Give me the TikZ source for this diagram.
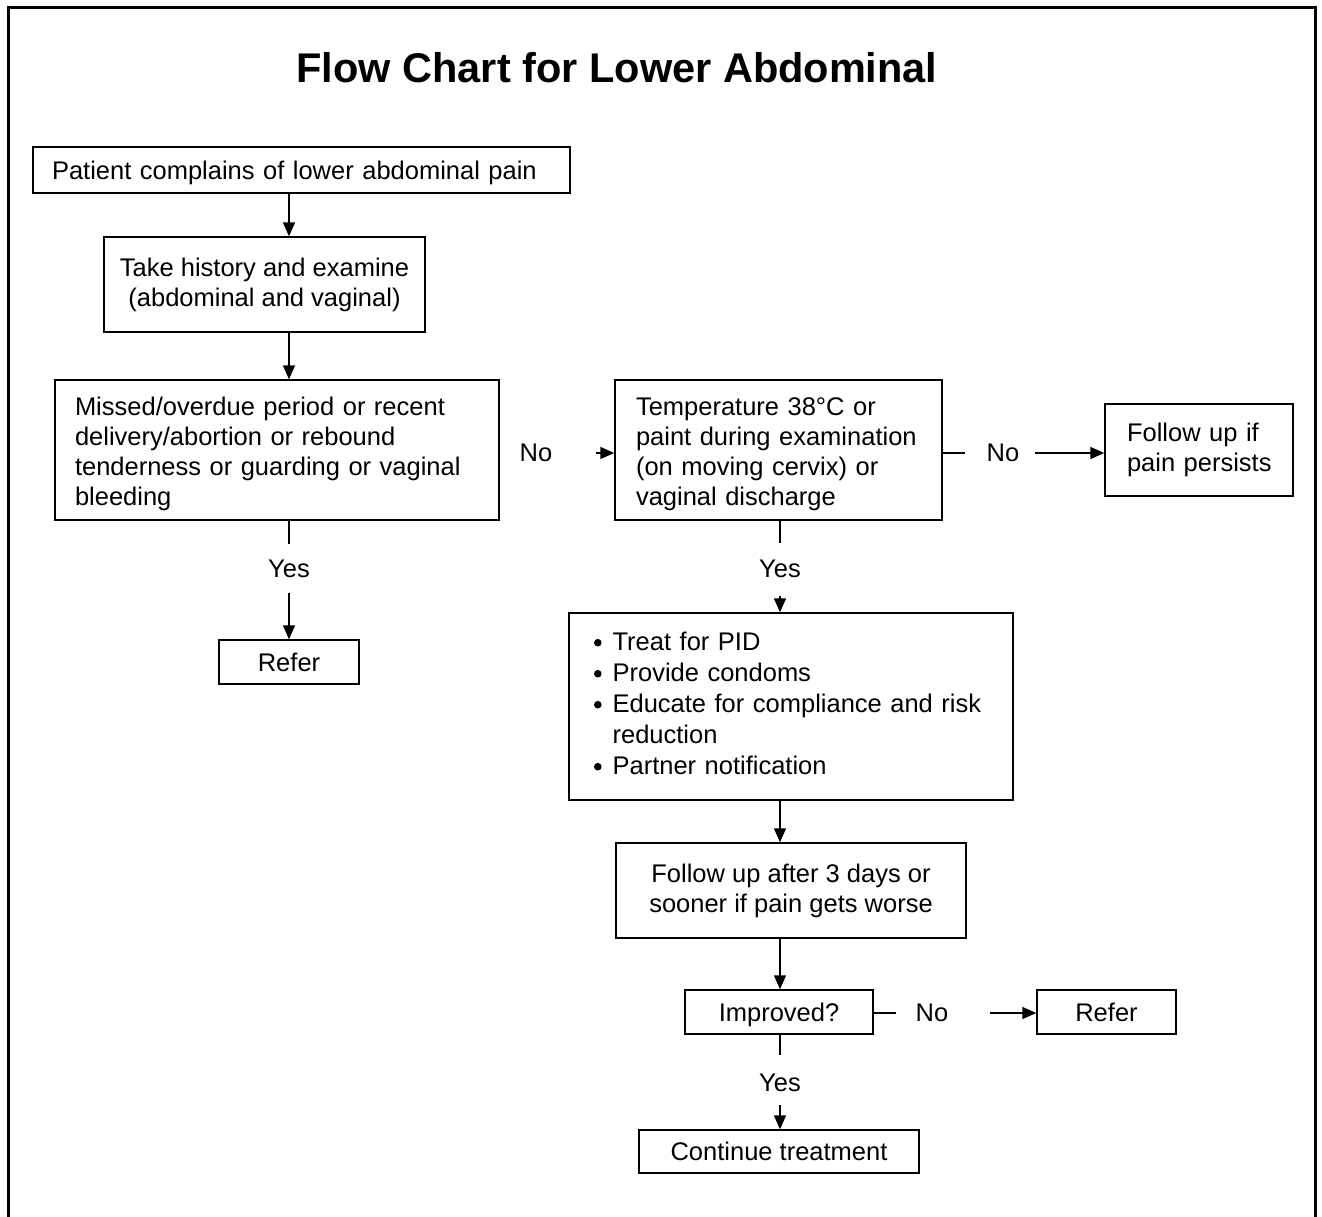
\documentclass[tikz,border=0pt]{standalone}
\usepackage{fontspec}
\setmainfont{Liberation Sans}
\usetikzlibrary{arrows.meta}
\newcommand\blt{\raisebox{4.2pt}{\tikz\fill[black] (0,0) circle (3.8pt);}}
\newcommand\tallstrut{\rule{0pt}{27pt}}
\begin{document}
\begin{tikzpicture}[x=1pt,y=-1pt,
 box/.style={draw, line width=1.5pt, inner sep=0pt, font=\fontsize{25.5}{30}\selectfont},
 one/.style={text height=18.5pt, text depth=0pt},
 lbl/.style={inner sep=0pt, font=\fontsize{25.5}{30}\selectfont},
 ln/.style={line width=1.5pt},
 arr/.style={line width=1.5pt, -{Triangle[length=14pt,width=12pt]}}]
\useasboundingbox (0,0) rectangle (1322,1216);
% outer frame
\draw[line width=3pt] (8.5,1220) -- (8.5,7.5) -- (1315,7.5) -- (1315,1220);
% title
\node[anchor=base, inner sep=0pt, font=\fontsize{41.5}{48}\selectfont\bfseries] (title) at (617,82) {Flow Chart for Lower Abdominal};
% boxes
\node[box, one, minimum width=537pt, minimum height=46pt, text width=499pt, align=left] (b1) at (301.5,170) {Patient complains of lower abdominal pain};
\node[box, minimum width=321pt, minimum height=95pt, align=center] (b2) at (264.5,284.5) {Take history and examine\\(abdominal and vaginal)};
\node[box, minimum width=444pt, minimum height=140pt, text width=404pt, align=left] (b3) at (277,450) {\tallstrut\mbox{Missed/overdue period or recent}\\\mbox{delivery/abortion or rebound}\\\mbox{tenderness or guarding or vaginal}\\\mbox{bleeding}};
\node[box, minimum width=327pt, minimum height=140pt, text width=285pt, align=left] (b4) at (778.5,450) {\tallstrut\mbox{Temperature 38°C or}\\\mbox{paint during examination}\\\mbox{(on moving cervix) or}\\\mbox{vaginal discharge}};
\node[box, minimum width=188pt, minimum height=92pt, text width=144pt, align=left] (b5) at (1199,450) {\mbox{Follow up if}\\\mbox{pain persists}};
\node[box, one, minimum width=140pt, minimum height=44pt] (r1) at (289,662) {Refer};
\node[box, minimum width=444pt, minimum height=187pt, text width=394pt, align=left, font=\fontsize{25.5}{31}\selectfont] (b7) at (791,706.5) {\begin{tabular}{@{}l@{\hspace{11pt}}l@{}}
\blt & Treat for PID\\
\blt & Provide condoms\\
\blt & Educate for compliance and risk\\
 & reduction\\
\blt & Partner notification
\end{tabular}};
\node[box, minimum width=350pt, minimum height=95pt, align=center] (b8) at (791,890.5) {Follow up after 3 days or\\sooner if pain gets worse};
\node[box, one, minimum width=188pt, minimum height=44pt] (b9) at (779,1012) {Improved?};
\node[box, one, minimum width=139pt, minimum height=44pt] (r2) at (1106.5,1012) {Refer};
\node[box, one, minimum width=280pt, minimum height=43pt] (ct) at (779,1151.5) {Continue treatment};
% labels
\node[lbl] (y1) at (289,569) {Yes};
\node[lbl] (y2) at (780,569) {Yes};
\node[lbl] (y3) at (780,1083) {Yes};
\node[lbl] (n1) at (536,453) {No};
\node[lbl] (n2) at (1003,453) {No};
\node[lbl] (n3) at (932,1013) {No};
% connectors
\draw[arr] (r1.north |- b1.south) -- (r1.north |- b2.north);
\draw[arr] (r1.north |- b2.south) -- (r1.north |- b3.north);
\draw[ln] (y1 |- b3.south) -- ([yshift=25pt]y1.center);
\draw[arr] ([yshift=-24pt]y1.center) -- (y1 |- r1.north);
\draw[arr] ([xshift=60pt]n1.center) -- (n1 -| b4.west);
\draw[ln] (n2 -| b4.east) -- ([xshift=-38pt]n2.center);
\draw[arr] ([xshift=32pt]n2.center) -- (n2 -| b5.west);
\draw[ln] (y2 |- b4.south) -- ([yshift=26pt]y2.center);
\draw[arr] ([yshift=-27pt]y2.center) -- (y2 |- b7.north);
\draw[arr] (y2 |- b7.south) -- (y2 |- b8.north);
\draw[arr] (y2 |- b8.south) -- (y2 |- b9.north);
\draw[ln] (n3 -| b9.east) -- ([xshift=-36pt]n3.center);
\draw[arr] ([xshift=58pt]n3.center) -- (n3 -| r2.west);
\draw[ln] (y3 |- b9.south) -- ([yshift=28pt]y3.center);
\draw[arr] ([yshift=-22pt]y3.center) -- (y3 |- ct.north);
\end{tikzpicture}
\end{document}
